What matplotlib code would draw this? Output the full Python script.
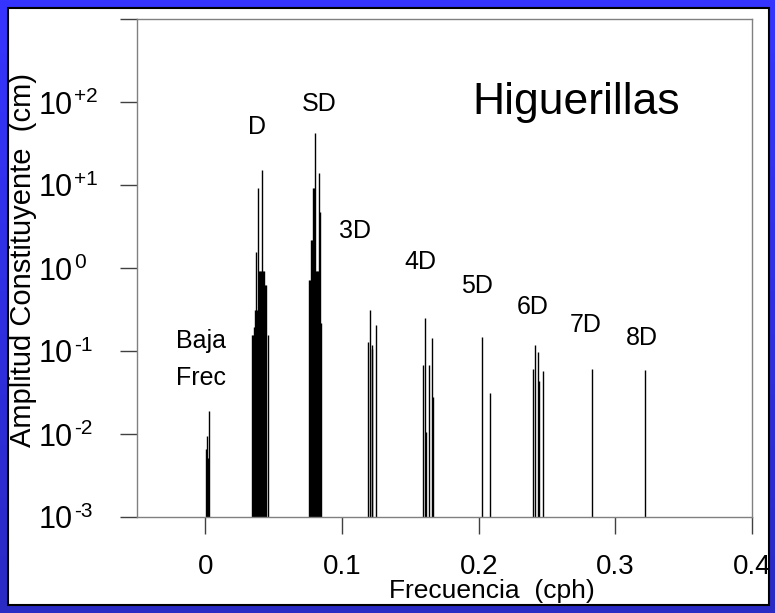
import matplotlib
matplotlib.use("Agg")
import matplotlib.pyplot as plt
import matplotlib.transforms as mtransforms
import numpy as np
from matplotlib.colors import LinearSegmentedColormap
from matplotlib.patches import Rectangle
from matplotlib.ticker import FixedLocator, FixedFormatter

plt.rcParams['font.family'] = ['Liberation Sans', 'DejaVu Sans']

# Constituent frequencies (cph) and amplitudes (cm), grouped by species
baja_freq = [0.0002, 0.0013, 0.0018, 0.0028]
baja_amp = [0.0066, 0.0095, 0.0052, 0.0189]

d_freq = [0.0340, 0.0350, 0.0359, 0.0367, 0.0372, 0.0380, 0.0387, 0.0395,
          0.0402, 0.0410, 0.0416, 0.0424, 0.0431, 0.0439, 0.0446, 0.0457]
d_amp = [0.155, 0.155, 0.194, 0.31, 1.58, 0.31, 9.3, 0.91,
         0.91, 0.91, 15.1, 0.91, 0.91, 0.62, 0.62, 0.155]

sd_freq = [0.0758, 0.0765, 0.0773, 0.0779, 0.0787, 0.0794, 0.0803, 0.0810,
           0.0817, 0.0824, 0.0832, 0.0837, 0.0847]
sd_amp = [0.71, 0.71, 2.17, 2.17, 9.3, 9.3, 42.5, 0.93,
          0.93, 0.93, 14.1, 4.7, 0.22]

d3_freq = [0.1193, 0.1206, 0.1216, 0.1223, 0.1249]
d3_amp = [0.128, 0.308, 0.119, 0.105, 0.204]

d4_freq = [0.1595, 0.1608, 0.1618, 0.1637, 0.1662, 0.1669]
d4_amp = [0.0674, 0.249, 0.0107, 0.0674, 0.145, 0.0281]

d5_freq = [0.2027, 0.2084]
d5_amp = [0.148, 0.0314]

d6_freq = [0.2398, 0.2412, 0.2435, 0.2445, 0.2471]
d6_amp = [0.0604, 0.119, 0.0975, 0.0434, 0.0572]

d7_freq = [0.2832]
d7_amp = [0.0615]

d8_freq = [0.3217]
d8_amp = [0.0598]

freqs = baja_freq + d_freq + sd_freq + d3_freq + d4_freq + d5_freq + d6_freq + d7_freq + d8_freq
amps = baja_amp + d_amp + sd_amp + d3_amp + d4_amp + d5_amp + d6_amp + d7_amp + d8_amp

group_labels = ["D", "SD", "3D", "4D", "5D", "6D", "7D", "8D"]
group_label_x = [0.0380, 0.0834, 0.1098, 0.1570, 0.1985, 0.2393, 0.2780, 0.3197]
group_label_y = [41.0, 77.3, 2.31, 0.984, 0.493, 0.276, 0.168, 0.117]

y_ticks = [1e-3, 1e-2, 1e-1, 1e0, 1e1, 1e2, 1e3]
y_exponents = ["-3", "-2", "-1", "0", "+1", "+2", ""]
x_ticks = [0, 0.1, 0.2, 0.3, 0.4]
x_ticklabels = ["0", "0.1", "0.2", "0.3", "0.4"]

W, H = 775, 613
fig = plt.figure(figsize=(W / 100, H / 100), dpi=100)

# blue slide frame with a white panel
bg = fig.add_axes([0, 0, 1, 1])
bg.set_axis_off()
blue = LinearSegmentedColormap.from_list("frame", ["#3535ff", "#2a2ac4"])
bg.imshow(np.linspace(0, 1, 256).reshape(-1, 1), cmap=blue, aspect='auto',
          extent=[0, 1, 0, 1], origin='upper')
bg.add_patch(Rectangle((8 / W, 8 / H), 761 / W, 597 / H, transform=bg.transAxes,
                       facecolor='white', edgecolor='black', linewidth=1.5))
bg.set_xlim(0, 1)
bg.set_ylim(0, 1)

ax = fig.add_axes([137 / W, (H - 517) / H, 615 / W, 498 / H])
ax.set_yscale('log')
ax.vlines(freqs, 1e-3, amps, colors='black', linewidth=1.0)

ax.set_xlim(-0.05, 0.4)
ax.set_ylim(1e-3, 1e3)

ax.xaxis.set_major_locator(FixedLocator(x_ticks))
ax.xaxis.set_major_formatter(FixedFormatter(x_ticklabels))
ax.yaxis.set_major_locator(FixedLocator(y_ticks))
ax.yaxis.set_minor_locator(FixedLocator([]))
ax.yaxis.set_major_formatter(FixedFormatter(["10" if e else "" for e in y_exponents]))

for s in ax.spines.values():
    s.set_color('#808080')
    s.set_linewidth(1.0)
ax.tick_params(axis='both', which='major', direction='out', length=12, width=1.0,
               color='#404040')
ax.tick_params(axis='x', pad=15, labelsize=20)
ax.tick_params(axis='y', pad=34.5, labelsize=22)

# exponents written as small raised text next to each "10"
sup_tr = mtransforms.blended_transform_factory(ax.transAxes, ax.transData)
for t, e in zip(y_ticks, y_exponents):
    if e:
        ax.text(-0.1025, t, e, fontsize=15, ha='left', va='baseline',
                transform=sup_tr, clip_on=False)

ax.set_xlabel("Frecuencia  (cph)", fontsize=19)
ax.xaxis.set_label_coords(0.577, -0.125)
ax.set_ylabel("Amplitud Constituyente  (cm)", fontsize=21)
ax.yaxis.set_label_coords(-0.163, 0.516)

for lab, lx, ly in zip(group_labels, group_label_x, group_label_y):
    ax.text(lx, ly, lab, fontsize=18, ha='center', va='baseline')
ax.text(-0.0029, 0.108, "Baja", fontsize=18, ha='center', va='baseline')
ax.text(-0.0029, 0.0388, "Frec", fontsize=18, ha='center', va='baseline')
ax.text(0.2715, 71.1, "Higuerillas", fontsize=32, ha='center', va='baseline')

fig.savefig("out.png", dpi=100)
